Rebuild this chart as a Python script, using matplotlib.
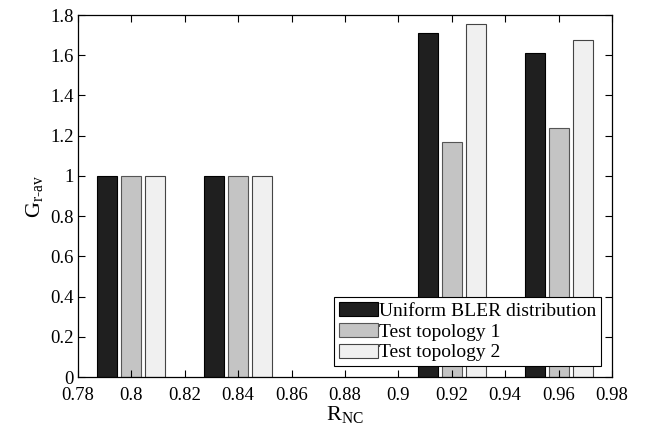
import matplotlib.pyplot as plt
import numpy as np

# data
r_nc = [0.80, 0.84, 0.92, 0.96]
uniform_bler = [1.0, 1.0, 1.709, 1.610]
topology_1 = [1.0, 1.0, 1.170, 1.240]
topology_2 = [1.0, 1.0, 1.754, 1.674]
series_labels = ['Uniform BLER distribution', 'Test topology 1', 'Test topology 2']
x_ticks = [0.78, 0.80, 0.82, 0.84, 0.86, 0.88, 0.90, 0.92, 0.94, 0.96, 0.98]
x_tick_labels = ['0.78', '0.8', '0.82', '0.84', '0.86', '0.88', '0.9', '0.92', '0.94', '0.96', '0.98']
y_ticks = [0, 0.2, 0.4, 0.6, 0.8, 1.0, 1.2, 1.4, 1.6, 1.8]
y_tick_labels = ['0', '0.2', '0.4', '0.6', '0.8', '1', '1.2', '1.4', '1.6', '1.8']

plt.rcParams['font.family'] = ['Liberation Serif', 'DejaVu Serif']
plt.rcParams['mathtext.fontset'] = 'custom'
plt.rcParams['mathtext.rm'] = 'Liberation Serif'
plt.rcParams['mathtext.it'] = 'Liberation Serif:italic'

fig = plt.figure(figsize=(6.46, 4.33), dpi=100)
ax = fig.add_axes([0.1207, 0.1293, 0.8266, 0.836])

x = np.array(r_nc)
offsets = [-0.009, 0.0, 0.009]
colors = ['#1f1f1f', '#c4c4c4', '#f0f0f0']
edges = ['#000000', '#555555', '#444444']
for vals, off, c, ec, lab in zip([uniform_bler, topology_1, topology_2], offsets, colors, edges, series_labels):
    ax.bar(x + off, vals, width=0.0075, color=c, edgecolor=ec, linewidth=0.8, label=lab)

ax.set_xlim(0.78, 0.98)
ax.set_ylim(0, 1.8)
ax.set_xticks(x_ticks)
ax.set_xticklabels(x_tick_labels)
ax.set_yticks(y_ticks)
ax.set_yticklabels(y_tick_labels)
ax.tick_params(direction='in', length=5, width=0.8, top=True, right=True, labelsize=13.5, pad=3)
ax.tick_params(axis='x', pad=7.5)
for s in ax.spines.values():
    s.set_linewidth(0.9)

ax.set_xlabel(r'R$_{\mathrm{NC}}$', fontsize=16, labelpad=0)
ax.set_ylabel(r'G$_{\mathrm{r\text{-}av}}$', fontsize=16, labelpad=4)

leg = ax.legend(loc='lower right', fontsize=14, fancybox=False, framealpha=1,
                edgecolor='black', handlelength=2.0, handleheight=0.75,
                handletextpad=0.05, labelspacing=0.15, borderpad=0.25,
                borderaxespad=0.55)
leg.get_frame().set_linewidth(0.8)

plt.savefig('out.png', dpi=100)
